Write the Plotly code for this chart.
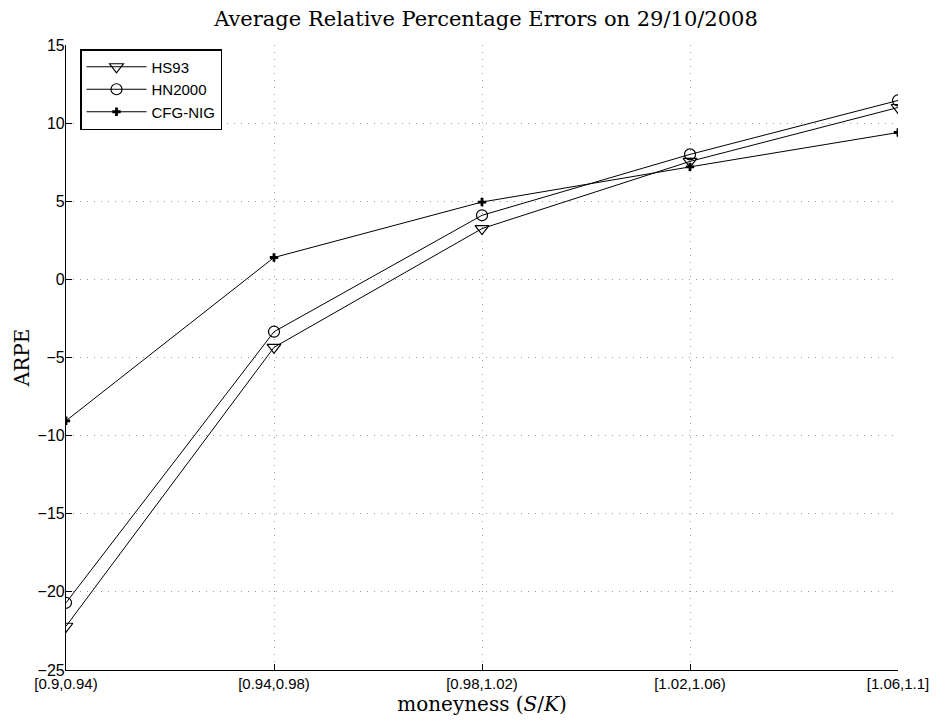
import plotly.graph_objects as go

categories = ["[0.9,0.94)", "[0.94,0.98)", "[0.98,1.02)", "[1.02,1.06)", "[1.06,1.1]"]
hs93 = [-22.2, -4.35, 3.25, 7.55, 11.0]
hn2000 = [-20.7, -3.35, 4.1, 8.0, 11.45]
cfg_nig = [-9.05, 1.4, 4.95, 7.2, 9.4]
y_ticks = [-25, -20, -15, -10, -5, 0, 5, 10, 15]

xpos = list(range(len(categories)))

fig = go.Figure()
fig.add_trace(go.Scatter(
    x=xpos, y=hs93, name="HS93", mode="lines+markers",
    line=dict(color="black", width=1),
    marker=dict(symbol="triangle-down-open", size=12, color="black", line=dict(width=1.2)),
))
fig.add_trace(go.Scatter(
    x=xpos, y=hn2000, name="HN2000", mode="lines+markers",
    line=dict(color="black", width=1),
    marker=dict(symbol="circle-open", size=11, color="black", line=dict(width=1.2)),
))
fig.add_trace(go.Scatter(
    x=xpos, y=cfg_nig, name="CFG-NIG", mode="lines+markers",
    line=dict(color="black", width=1),
    marker=dict(symbol="cross", size=7, color="black", line=dict(width=0)),
))

grid_style = dict(showgrid=True, gridcolor="#9a9a9a", griddash="1px,6px", gridwidth=1)

# page body has an 8px default margin, so the figure is offset by 8px
fig.update_layout(
    width=929, height=713,
    paper_bgcolor="white", plot_bgcolor="white",
    margin=dict(l=58, r=39, t=37, b=51),
    font=dict(family="Liberation Sans, Arial, sans-serif", size=15, color="black"),
    title=dict(
        text="Average Relative Percentage Errors on 29/10/2008",
        font=dict(family="DejaVu Serif, serif", size=21, color="black"),
        x=478 / 929, xanchor="center", y=1 - 11 / 713, yanchor="middle",
    ),
    showlegend=True,
    legend=dict(
        x=14 / 832, y=1 - 4 / 625, xanchor="left", yanchor="top",
        bgcolor="white", bordercolor="black", borderwidth=1.5,
        font=dict(family="Liberation Sans, Arial, sans-serif", size=15, color="black"),
        itemwidth=60, tracegroupgap=0,
    ),
    xaxis=dict(
        range=[0, 4], tickmode="array", tickvals=xpos, ticktext=categories,
        showline=True, linecolor="black", linewidth=1.2, mirror=False,
        ticks="inside", ticklen=6, tickcolor="black",
        zeroline=False, automargin=False,
        tickfont=dict(size=15),
        title=dict(text="moneyness (<i>S</i>/<i>K</i>)",
                   font=dict(family="DejaVu Serif, serif", size=20, color="black"),
                   standoff=3),
        **grid_style,
    ),
    yaxis=dict(
        range=[-25, 15], tickmode="array", tickvals=y_ticks,
        showline=True, linecolor="black", linewidth=1.2, mirror=False,
        ticks="inside", ticklen=6, tickcolor="black",
        zeroline=False, automargin=False,
        tickfont=dict(size=16), ticklabelstandoff=-3,
        title=dict(text="ARPE",
                   font=dict(family="DejaVu Serif, serif", size=20, color="black"),
                   standoff=2),
        **grid_style,
    ),
)

fig.write_html("out.html")
